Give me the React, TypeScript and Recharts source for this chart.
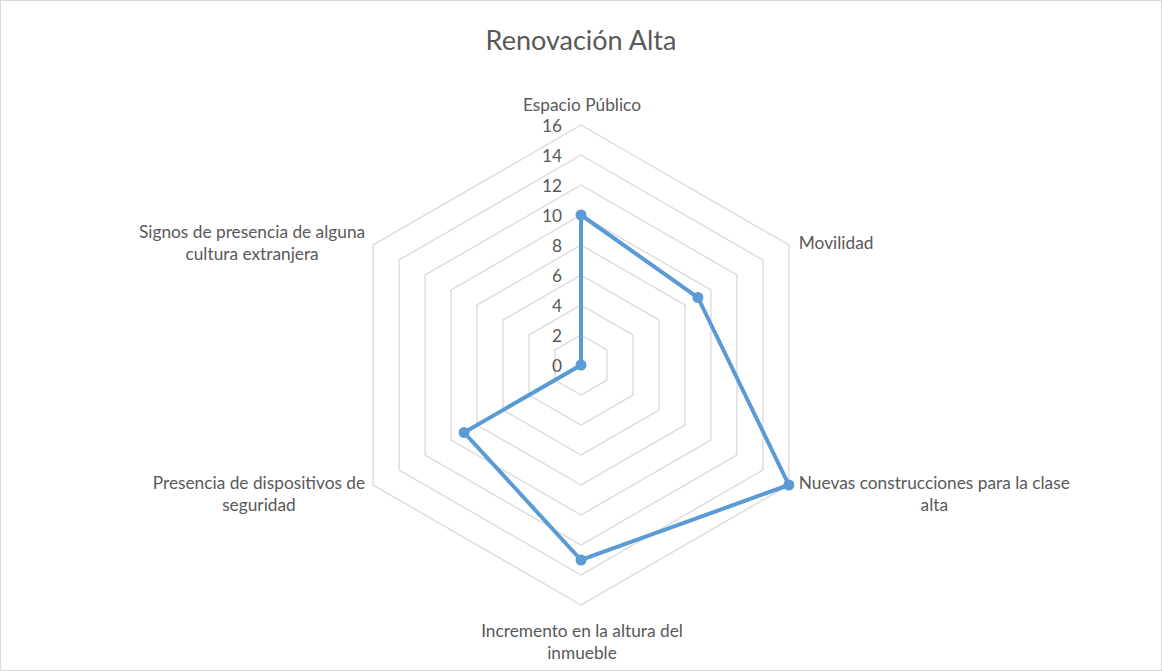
import React from "react";
import {
  RadarChart,
  Radar,
  PolarGrid,
  PolarAngleAxis,
  PolarRadiusAxis,
} from "recharts";

// categories, split into the lines Excel wraps them to
const CATEGORIES: string[][] = [
  ["Espacio Público"],
  ["Movilidad"],
  ["Nuevas construcciones para la clase", "alta"],
  ["Incremento en la altura del", "inmueble"],
  ["Presencia de dispositivos de", "seguridad"],
  ["Signos de presencia de alguna", "cultura extranjera"],
];

const VALUES: number[] = [10, 9, 16, 13, 9, 0];

const RADIUS_TICKS: number[] = [0, 2, 4, 6, 8, 10, 12, 14, 16];

const data = CATEGORIES.map((lines, i) => ({
  name: lines.join(" "),
  value: VALUES[i],
}));

const W = 1162;
const H = 671;
const CX = 581;
const CY = 365;
const R = 240;
const FONT = "Lato, 'Open Sans', sans-serif";
const FONT_SIZE = 17.3;
const LINE_H = 22;
const TEXT = "#595959";

let ctx: CanvasRenderingContext2D | null = null;
function measure(text: string): number {
  if (!ctx) ctx = document.createElement("canvas").getContext("2d");
  if (!ctx) return text.length * 8;
  ctx.font = `${FONT_SIZE}px ${FONT}`;
  return ctx.measureText(text).width;
}

function AngleTick(props: any) {
  const { payload } = props;
  const idx = data.findIndex((d) => d.name === payload.value);
  const lines = CATEGORIES[idx] ?? [String(payload.value)];
  const rad = ((-payload.coordinate) * Math.PI) / 180;
  const vx = CX + R * Math.cos(rad);
  const vy = CY + R * Math.sin(rad);

  let x = vx;
  let firstY: number;

  if (Math.abs(vx - CX) < 1) {
    if (vy < CY) firstY = vy - 22 - (lines.length - 1) * LINE_H;
    else firstY = vy + 24;
  } else {
    const w = Math.max(...lines.map(measure));
    const side = vx > CX ? 1 : -1;
    x = vx + side * (9 + w / 2);
    if (vy < CY) firstY = vy - 4 - ((lines.length - 1) * LINE_H) / 2;
    else firstY = vy - 4;
  }

  return (
    <text
      textAnchor="middle"
      fill={TEXT}
      fontSize={FONT_SIZE}
      fontFamily={FONT}
      dominantBaseline="central"
    >
      {lines.map((l, i) => (
        <tspan key={i} x={x} y={firstY + i * LINE_H}>
          {l}
        </tspan>
      ))}
    </text>
  );
}

function RadiusTick(props: any) {
  const { x, y, payload } = props;
  return (
    <text
      x={x - 19}
      y={y}
      textAnchor="end"
      dominantBaseline="central"
      fill={TEXT}
      fontSize={FONT_SIZE}
      fontFamily={FONT}
    >
      {payload.value}
    </text>
  );
}

export default function App() {
  return (
    <div
      style={{
        position: "absolute",
        left: 0,
        top: 0,
        width: W - 2,
        height: H - 2,
        border: "1px solid #d9d9d9",
        background: "#fff",
        fontFamily: FONT,
      }}
    >
      <div
        style={{
          position: "absolute",
          top: 22,
          width: "100%",
          textAlign: "center",
          fontSize: 27,
          color: TEXT,
        }}
      >
        Renovación Alta
      </div>
      <RadarChart
        width={W - 2}
        height={H - 2}
        data={data}
        cx={CX - 1}
        cy={CY - 1}
        outerRadius={R}
        style={{ position: "absolute", left: 0, top: 0 }}
      >
        <PolarGrid gridType="polygon" radialLines={false} stroke="#d9d9d9" strokeWidth={1.3} />
        <PolarAngleAxis dataKey="name" tick={<AngleTick />} tickLine={false} axisLine={false} />
        <PolarRadiusAxis
          angle={90}
          domain={[0, 16]}
          ticks={RADIUS_TICKS}
          tick={<RadiusTick />}
          axisLine={false}
          tickLine={false}
        />
        <Radar
          dataKey="value"
          stroke="#5B9BD5"
          strokeWidth={4}
          fill="none"
          fillOpacity={0}
          dot={{ r: 5.5, fill: "#5B9BD5", stroke: "#5B9BD5", strokeWidth: 0, fillOpacity: 1 }}
          isAnimationActive={false}
        />
      </RadarChart>
    </div>
  );
}
